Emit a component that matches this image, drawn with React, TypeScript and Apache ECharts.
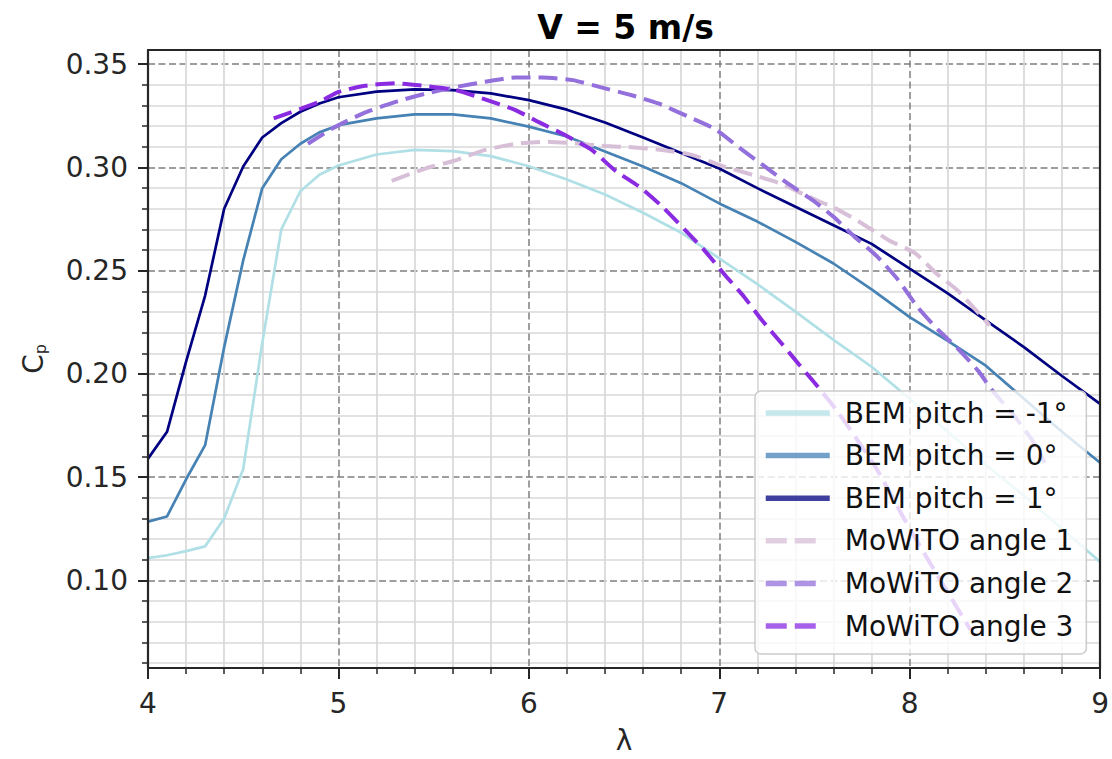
import React, { useEffect, useRef } from "react";
import * as echarts from "echarts";

// ---- data ----
const lambdaBEM = [4.0, 4.1, 4.2, 4.3, 4.4, 4.5, 4.6, 4.7, 4.8, 4.9, 5.0, 5.2, 5.4, 5.6, 5.8, 6.0, 6.2, 6.4, 6.6, 6.8, 7.0, 7.2, 7.4, 7.6, 7.8, 8.0, 8.2, 8.4, 8.6, 8.8, 9.0];
const cpPitchMinus1 = [0.1108, 0.1122, 0.1142, 0.1165, 0.13, 0.154, 0.215, 0.27, 0.2885, 0.2965, 0.301, 0.3063, 0.3085, 0.3079, 0.3055, 0.3006, 0.2942, 0.2869, 0.2781, 0.2684, 0.256, 0.2435, 0.2302, 0.2165, 0.2035, 0.188, 0.172, 0.156, 0.141, 0.125, 0.109];
const cpPitch0 = [0.1285, 0.131, 0.149, 0.1655, 0.213, 0.255, 0.29, 0.304, 0.3115, 0.317, 0.3205, 0.3238, 0.3257, 0.3257, 0.3238, 0.3198, 0.315, 0.3077, 0.3005, 0.2924, 0.2826, 0.2738, 0.264, 0.2535, 0.241, 0.2275, 0.216, 0.204, 0.188, 0.172, 0.157];
const cpPitch1 = [0.159, 0.172, 0.206, 0.238, 0.28, 0.3005, 0.3145, 0.3215, 0.327, 0.331, 0.334, 0.3367, 0.3378, 0.3375, 0.3359, 0.3326, 0.328, 0.3218, 0.3145, 0.307, 0.2995, 0.29, 0.281, 0.272, 0.263, 0.251, 0.239, 0.226, 0.213, 0.199, 0.1855];

const lambdaAngle1 = [5.28, 5.46, 5.62, 5.77, 5.93, 6.09, 6.24, 6.4, 6.54, 6.7, 6.86, 7.01, 7.18, 7.32, 7.47, 7.61, 7.75, 7.89, 8.03, 8.14, 8.25, 8.38, 8.42];
const cpAngle1 = [0.2935, 0.2996, 0.3036, 0.3085, 0.3114, 0.3125, 0.3117, 0.3104, 0.3098, 0.3085, 0.306, 0.3009, 0.2963, 0.2923, 0.2858, 0.2802, 0.2729, 0.2648, 0.2584, 0.2487, 0.2406, 0.2277, 0.2235];

const lambdaAngle2 = [4.84, 4.97, 5.13, 5.3, 5.46, 5.62, 5.77, 5.93, 6.07, 6.23, 6.38, 6.54, 6.68, 6.84, 6.98, 7.1, 7.23, 7.36, 7.49, 7.6, 7.71, 7.83, 7.94, 8.04, 8.15, 8.25, 8.36, 8.43, 8.55, 8.64, 8.71];
const cpAngle2 = [0.3115, 0.319, 0.3262, 0.3318, 0.3358, 0.339, 0.3415, 0.3436, 0.3436, 0.3423, 0.3388, 0.335, 0.331, 0.3245, 0.3185, 0.31, 0.3011, 0.2923, 0.2842, 0.2761, 0.2665, 0.2568, 0.2455, 0.2326, 0.2213, 0.2125, 0.2015, 0.1925, 0.1796, 0.1684, 0.157];

const lambdaAngle3 = [4.66, 4.9, 5.0, 5.14, 5.3, 5.46, 5.62, 5.77, 5.93, 6.05, 6.19, 6.33, 6.45, 6.59, 6.7, 6.82, 6.92, 7.03, 7.13, 7.22, 7.33, 7.42, 7.51, 7.62, 7.82, 7.97, 8.11, 8.32];
const cpAngle3 = [0.3238, 0.3318, 0.3366, 0.3396, 0.3408, 0.3394, 0.3374, 0.333, 0.3278, 0.3221, 0.3157, 0.3085, 0.2988, 0.29, 0.2811, 0.2698, 0.2601, 0.2479, 0.2374, 0.2265, 0.2145, 0.2045, 0.1947, 0.182, 0.155, 0.13, 0.108, 0.076];

const seriesNames = ["BEM pitch = -1°", "BEM pitch = 0°", "BEM pitch = 1°", "MoWiTO angle 1", "MoWiTO angle 2", "MoWiTO angle 3"];
const yTickValues = [0.1, 0.15, 0.2, 0.25, 0.3, 0.35];
const xRange = [4, 9];
const yRange = [0.0576, 0.3569];
const titleText = "V = 5 m/s";

const zip = (xs: number[], ys: number[]) => xs.map((x, i) => [x, ys[i]]);

export default function App() {
  const ref = useRef<HTMLDivElement>(null);

  useEffect(() => {
    const el = ref.current;
    if (!el) return;
    const chart = echarts.init(el, null, { renderer: "svg" });
    const font = "DejaVu Sans";
    const ink = "#262626";
    const solidColors = ["#b0e0e6", "#4682b4", "#000080"];
    const dashColors = ["#d8bfd8", "#9370db", "#8a2be2"];
    const solidData = [zip(lambdaBEM, cpPitchMinus1), zip(lambdaBEM, cpPitch0), zip(lambdaBEM, cpPitch1)];
    const dashData = [zip(lambdaAngle1, cpAngle1), zip(lambdaAngle2, cpAngle2), zip(lambdaAngle3, cpAngle3)];

    const majorSplit = { show: true, lineStyle: { color: "#7f7f7f", width: 1.5, type: [7, 3.5] } };
    const minorSplit = { show: true, lineStyle: { color: "#d8d8d8", width: 1.7 } };
    const tickStyle = { color: ink, width: 2 };
    const frameAxis = (extra: any) => ({
      type: "value",
      z: 5,
      axisLine: { show: true, lineStyle: { color: ink, width: 2.2 } },
      axisTick: { show: false },
      axisLabel: { show: false },
      splitLine: { show: false },
      ...extra,
    });

    const series: any[] = [];
    solidColors.forEach((c, i) => {
      series.push({
        type: "line",
        name: seriesNames[i],
        data: solidData[i],
        symbol: "none",
        showSymbol: false,
        lineStyle: { color: c, width: 2.7 },
        itemStyle: { color: c },
        emphasis: { disabled: true },
        z: 2,
      });
    });
    dashColors.forEach((c, i) => {
      series.push({
        type: "line",
        name: seriesNames[3 + i],
        data: dashData[i],
        symbol: "none",
        showSymbol: false,
        smooth: 0.2,
        lineStyle: { color: c, width: 4, type: [19, 8], cap: "butt" },
        itemStyle: { color: c },
        emphasis: { disabled: true },
        z: 2,
      });
    });

    chart.setOption({
      animation: false,
      backgroundColor: "#ffffff",
      textStyle: { fontFamily: font },
      grid: { left: 148, right: 10, top: 50, bottom: 89, show: false },
      graphic: [
        {
          type: "text",
          x: 625.5,
          y: 27,
          z: 10,
          style: {
            text: titleText,
            font: `bold 33px "${font}"`,
            fill: "#000",
            textAlign: "center",
            textVerticalAlign: "middle",
          },
        },
      ],
      xAxis: [
        {
          type: "value",
          min: xRange[0],
          max: xRange[1],
          interval: 1,
          name: "λ",
          nameLocation: "middle",
          nameGap: 58,
          nameTextStyle: { fontSize: 28, color: ink, fontFamily: font },
          axisLine: { show: false },
          axisTick: { show: true, length: 11, lineStyle: tickStyle },
          minorTick: { show: true, splitNumber: 5, length: 6, lineStyle: { color: ink, width: 1.5 } },
          axisLabel: { fontSize: 28, color: ink, margin: 21, fontFamily: font },
          splitLine: majorSplit,
          minorSplitLine: minorSplit,
        },
        frameAxis({ position: "top", min: xRange[0], max: xRange[1] }),
        frameAxis({ position: "bottom", min: xRange[0], max: xRange[1] }),
      ],
      yAxis: [
        {
          type: "value",
          min: yRange[0],
          max: yRange[1],
          splitNumber: 6,
          name: "{c|C}{p|p}",
          nameLocation: "middle",
          nameGap: 100,
          nameRotate: 90,
          nameTextStyle: {
            color: ink,
            rich: {
              c: { fontSize: 28, fontFamily: font, color: ink },
              p: { fontSize: 16, fontFamily: font, color: ink, padding: [14, 0, 0, 0] },
            },
          },
          axisLine: { show: false },
          axisTick: { show: true, length: 10, customValues: yTickValues, lineStyle: tickStyle },
          minorTick: { show: true, splitNumber: 5, length: 6, lineStyle: { color: ink, width: 1.5 } },
          axisLabel: {
            customValues: yTickValues,
            fontSize: 28,
            color: ink,
            margin: 20,
            fontFamily: font,
            formatter: (v: number) => v.toFixed(2),
          },
          splitLine: majorSplit,
          minorSplitLine: minorSplit,
        },
        frameAxis({ position: "right", min: yRange[0], max: yRange[1] }),
        frameAxis({ position: "left", min: yRange[0], max: yRange[1] }),
      ],
      legend: {
        orient: "vertical",
        left: 755,
        top: 391,
        padding: [8, 13, 14, 8],
        itemWidth: 64,
        itemHeight: 14,
        itemGap: 14.6,
        backgroundColor: "rgba(255,255,255,0.8)",
        borderColor: "#cccccc",
        borderWidth: 1.5,
        borderRadius: 6,
        selectedMode: false,
        textStyle: { fontSize: 28, color: "#111111", fontFamily: font, padding: [0, 0, 0, 10] },
        lineStyle: { width: 5.5, opacity: 0.75 },
        itemStyle: { opacity: 0, borderWidth: 0 },
        data: seriesNames.map((n, i) =>
          i < 3 ? { name: n } : { name: n, lineStyle: { type: [21, 8, 21, 200], width: 5.5, opacity: 0.75 } }
        ),
      },
      series,
    });

    return () => chart.dispose();
  }, []);

  return <div ref={ref} style={{ position: "fixed", left: 0, top: 0, width: 1112, height: 759 }} />;
}
